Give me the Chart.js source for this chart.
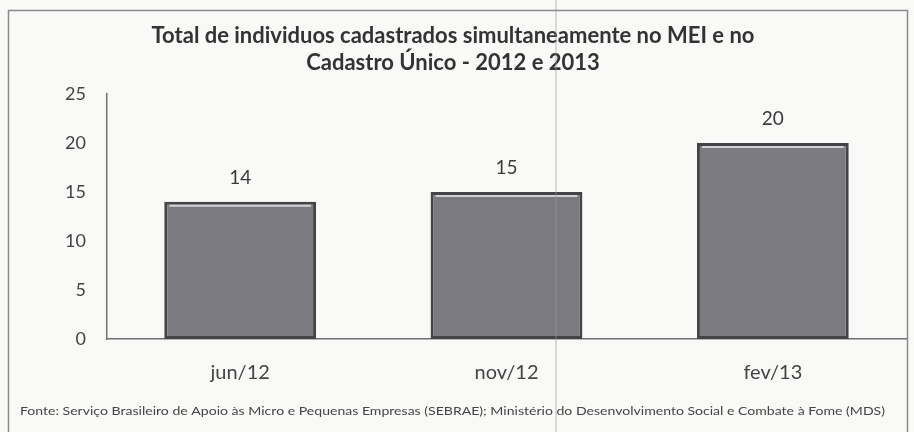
<!DOCTYPE html>
<html>
<head>
<meta charset="utf-8">
<script src="https://cdn.jsdelivr.net/npm/chart.js@4.4.1/dist/chart.umd.min.js"></script>
<style>
  html, body { margin: 0; padding: 0; background: #f9f9f8; }
  #wrap { width: 914px; height: 432px; position: relative; }
</style>
</head>
<body>
<div id="wrap"><canvas id="c" width="914" height="432"></canvas></div>
<script>
const categories = ["jun/12", "nov/12", "fev/13"];
const values = [14, 15, 20];
const yTicks = [0, 5, 10, 15, 20, 25];
const titleLines = ["Total de individuos cadastrados simultaneamente no MEI e no", "Cadastro Único - 2012 e 2013"];
const sourceText = "Fonte: Serviço Brasileiro de Apoio às Micro e Pequenas Empresas (SEBRAE); Ministério do Desenvolvimento Social e Combate à Fome (MDS)";

const framePlugin = {
  id: 'frame',
  beforeDraw(chart) {
    const ctx = chart.ctx;
    ctx.save();
    ctx.fillStyle = '#f9f9f8';
    ctx.fillRect(0, 0, chart.width, chart.height);
    ctx.strokeStyle = '#8a8a8a';
    ctx.lineWidth = 1.5;
    ctx.strokeRect(8.5, 10.5, 899, 440);
    ctx.restore();
  },
  afterDraw(chart) {
    const ctx = chart.ctx;
    ctx.save();
    ctx.font = '11.5px Lato, sans-serif';
    ctx.fillStyle = '#444';
    ctx.textBaseline = 'middle';
    const w = ctx.measureText(sourceText).width;
    const target = 865;
    ctx.translate(20, 411);
    ctx.scale(target / w, 1);
    ctx.fillText(sourceText, 0, 0);
    ctx.restore();
    // scan fold line
    ctx.save();
    ctx.strokeStyle = 'rgba(150,150,150,0.45)';
    ctx.lineWidth = 1.5;
    ctx.beginPath();
    ctx.moveTo(556, 0);
    ctx.lineTo(556, chart.height);
    ctx.stroke();
    ctx.restore();
  }
};

const barDecor = {
  id: 'barDecor',
  afterDatasetsDraw(chart) {
    const ctx = chart.ctx;
    const meta = chart.getDatasetMeta(0);
    ctx.save();
    meta.data.forEach((bar, i) => {
      const half = bar.width / 2;
      ctx.strokeStyle = 'rgba(225,225,228,0.85)';
      ctx.lineWidth = 2;
      ctx.beginPath();
      ctx.moveTo(bar.x - half + 5, bar.y + 4);
      ctx.lineTo(bar.x + half - 5, bar.y + 4);
      ctx.stroke();
      ctx.fillStyle = '#3a3a3a';
      ctx.font = '19px Lato, sans-serif';
      ctx.textAlign = 'center';
      ctx.textBaseline = 'middle';
      ctx.fillText(String(values[i]), bar.x, bar.y - 24);
    });
    ctx.restore();
  }
};

new Chart(document.getElementById('c'), {
  type: 'bar',
  data: {
    labels: categories,
    datasets: [{
      data: values,
      backgroundColor: '#7c7a81',
      borderColor: '#454348',
      borderWidth: 3,
      borderSkipped: false,
      barPercentage: 0.57,
      categoryPercentage: 1.0
    }]
  },
  options: {
    responsive: false,
    animation: false,
    devicePixelRatio: 1,
    layout: { padding: { left: 0, right: 8, top: 0, bottom: 25 } },
    plugins: {
      legend: { display: false },
      tooltip: { enabled: false },
      title: {
        display: true,
        text: titleLines,
        color: '#333',
        font: { family: 'Lato, sans-serif', size: 22, weight: 'bold', lineHeight: 1.23 },
        padding: { top: 22, bottom: 18 }
      }
    },
    scales: {
      x: {
        grid: { display: false, drawTicks: false },
        border: { display: true, color: '#707070', width: 1.5 },
        ticks: { color: '#444', font: { family: 'Lato, sans-serif', size: 20 }, padding: 22 }
      },
      y: {
        min: 0, max: 25,
        afterFit(scale) { scale.width = 107; },
        afterBuildTicks(scale) { scale.ticks = yTicks.map(v => ({ value: v })); },
        grid: { display: false, drawTicks: false },
        border: { display: true, color: '#707070', width: 1.5 },
        ticks: { color: '#444', font: { family: 'Lato, sans-serif', size: 18 }, padding: 21 }
      }
    }
  },
  plugins: [framePlugin, barDecor]
});
</script>
</body>
</html>
